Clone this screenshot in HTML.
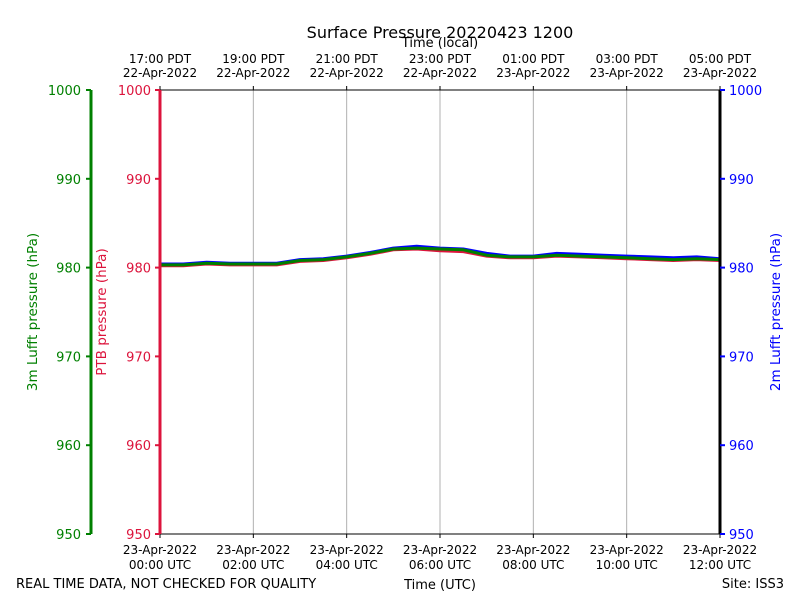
<!DOCTYPE html>
<html><head><meta charset="utf-8"><style>
body{margin:0;background:#fff;}
svg text{font-family:"DejaVu Sans","Liberation Sans",sans-serif;}
</style></head><body>
<svg id="chart" width="800" height="600" xmlns="http://www.w3.org/2000/svg"></svg>
<script>
const hours=[0,0.5,1,1.5,2,2.5,3,3.5,4,4.5,5,5.5,6,6.5,7,7.5,8,8.5,9,9.5,10,10.5,11,11.5,12];
const lufft2m=[980.4,980.4,980.6,980.5,980.5,980.5,980.9,981.0,981.3,981.7,982.2,982.4,982.2,982.1,981.6,981.3,981.3,981.6,981.5,981.4,981.3,981.2,981.1,981.2,981.0];
const ptb=[980.2,980.2,980.4,980.3,980.3,980.3,980.7,980.8,981.1,981.5,982.0,982.1,981.9,981.8,981.3,981.1,981.1,981.3,981.2,981.1,981.0,980.9,980.8,980.9,980.8];
const lufft3m=[980.3,980.3,980.5,980.4,980.4,980.4,980.8,980.9,981.2,981.6,982.1,982.2,982.1,982.0,981.4,981.2,981.2,981.4,981.3,981.2,981.1,981.0,980.9,981.0,980.9];
const yTicks=[950,960,970,980,990,1000];
const xTickHours=[0,2,4,6,8,10,12];
const utcLabels=["00:00 UTC","02:00 UTC","04:00 UTC","06:00 UTC","08:00 UTC","10:00 UTC","12:00 UTC"];
const utcDates=["23-Apr-2022","23-Apr-2022","23-Apr-2022","23-Apr-2022","23-Apr-2022","23-Apr-2022","23-Apr-2022"];
const localLabels=["17:00 PDT","19:00 PDT","21:00 PDT","23:00 PDT","01:00 PDT","03:00 PDT","05:00 PDT"];
const localDates=["22-Apr-2022","22-Apr-2022","22-Apr-2022","22-Apr-2022","23-Apr-2022","23-Apr-2022","23-Apr-2022"];

const svg=document.getElementById('chart');
const NS='http://www.w3.org/2000/svg';
const X0=160,X1=720,Y0=534,Y1=90;
const xs=h=>X0+(h-0)/12*(X1-X0);
const ys=v=>Y0-(v-950)/50*(Y0-Y1);
function el(tag,attrs,txt){const e=document.createElementNS(NS,tag);for(const k in attrs)e.setAttribute(k,attrs[k]);if(txt!==undefined)e.textContent=txt;svg.appendChild(e);return e;}

let e;
e=el('text',{x:440,y:38,'text-anchor':'middle','font-size':16},'Surface Pressure 20220423 1200');

e=el('text',{x:440,y:47,'text-anchor':'middle','font-size':13},'Time (local)');


xTickHours.forEach((h,i)=>{
  const x=xs(h);
  if(i>0&&i<xTickHours.length-1){e=el('line',{x1:x,x2:x,y1:Y1,y2:Y0,stroke:'#b0b0b0','stroke-width':1});
  }
  el('line',{x1:x,x2:x,y1:Y0,y2:Y0+4,stroke:'#000'});
  el('line',{x1:x,x2:x,y1:Y1,y2:Y1-4,stroke:'#000'});
  e=el('text',{x:x,y:554,'text-anchor':'middle','font-size':12},utcDates[i]);
  
  e=el('text',{x:x,y:569,'text-anchor':'middle','font-size':12},utcLabels[i]);
  
  e=el('text',{x:x,y:63,'text-anchor':'middle','font-size':12},localLabels[i]);
  
  e=el('text',{x:x,y:77,'text-anchor':'middle','font-size':12},localDates[i]);
  
});

e=el('rect',{x:X0,y:Y1,width:X1-X0,height:Y0-Y1,fill:'none',stroke:'#000','stroke-width':1});


function series(arr,color,name){
  const d=arr.map((v,i)=>(i?'L':'M')+xs(hours[i]).toFixed(1)+','+ys(v).toFixed(1)).join('');
  const p=el('path',{d:d,fill:'none',stroke:color,'stroke-width':3,'stroke-linejoin':'round'});
  
}
series(lufft2m,'#0000ff','series-2m-lufft');
series(ptb,'#dc143c','series-ptb');
series(lufft3m,'#008000','series-3m-lufft');

e=el('line',{x1:91,x2:91,y1:Y1,y2:Y0,stroke:'#008000','stroke-width':3});

e=el('line',{x1:X0,x2:X0,y1:Y1,y2:Y0,stroke:'#dc143c','stroke-width':3});

e=el('line',{x1:X1,x2:X1,y1:Y1,y2:Y0,stroke:'#000','stroke-width':3});


yTicks.forEach(v=>{
  const y=ys(v);
  el('line',{x1:86,x2:91,y1:y,y2:y,stroke:'#008000','stroke-width':2});
  e=el('text',{x:81,y:y+5,'text-anchor':'end','font-size':13,fill:'#008000'},v);
  
  el('line',{x1:155,x2:160,y1:y,y2:y,stroke:'#dc143c','stroke-width':2});
  e=el('text',{x:151,y:y+5,'text-anchor':'end','font-size':13,fill:'#dc143c'},v);
  
  el('line',{x1:720,x2:725,y1:y,y2:y,stroke:'#0000ff','stroke-width':2});
  e=el('text',{x:729,y:y+5,'text-anchor':'start','font-size':13,fill:'#0000ff'},v);
  
});

e=el('text',{x:0,y:0,transform:'translate(37,312) rotate(-90)','text-anchor':'middle','font-size':13.5,fill:'#008000'},'3m Lufft pressure (hPa)');

e=el('text',{x:0,y:0,transform:'translate(106,312) rotate(-90)','text-anchor':'middle','font-size':13.5,fill:'#dc143c'},'PTB pressure (hPa)');

e=el('text',{x:0,y:0,transform:'translate(780,312) rotate(-90)','text-anchor':'middle','font-size':13.5,fill:'#0000ff'},'2m Lufft pressure (hPa)');

e=el('text',{x:440,y:589,'text-anchor':'middle','font-size':13},'Time (UTC)');

e=el('text',{x:16,y:588,'font-size':13},'REAL TIME DATA, NOT CHECKED FOR QUALITY');

e=el('text',{x:784,y:588,'text-anchor':'end','font-size':13},'Site: ISS3');

</script>
</body></html>
